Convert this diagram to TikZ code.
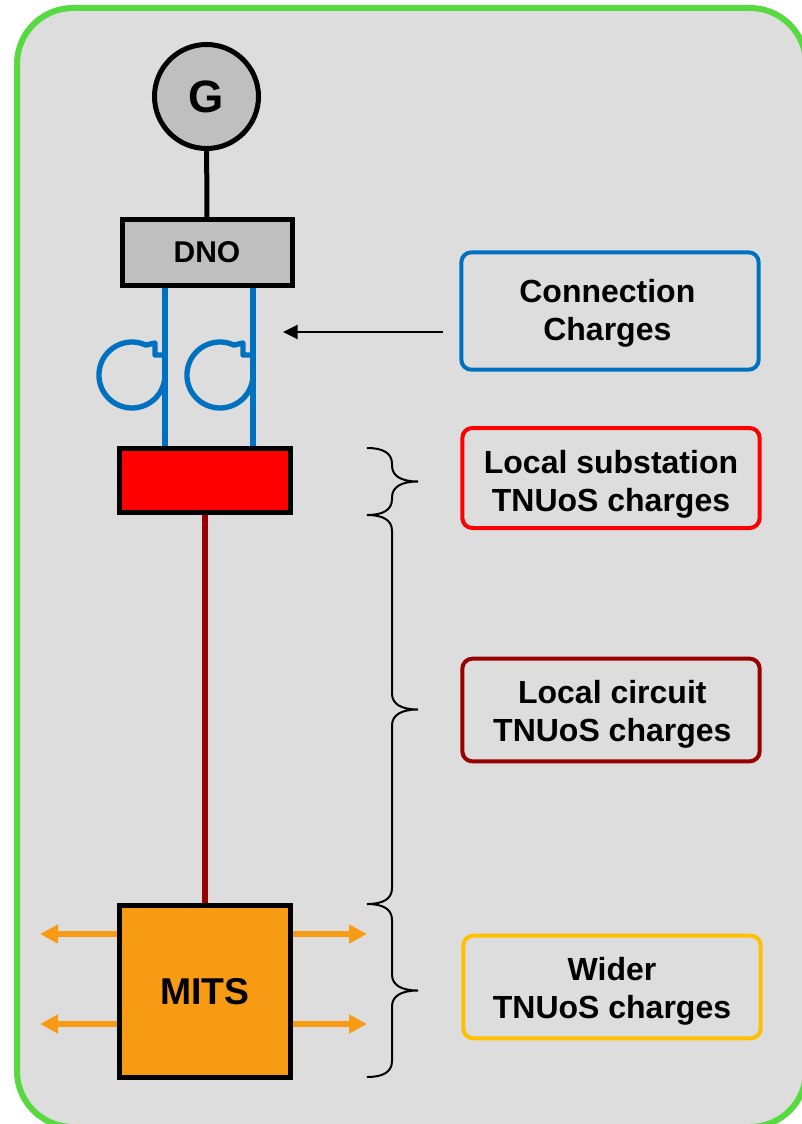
\documentclass[tikz,border=0pt]{standalone}
\usepackage{fontspec}
\setmainfont{Liberation Sans}
\usepackage{xcolor}
\usepackage{tikz}
\usetikzlibrary{positioning, calc, arrows.meta}
\definecolor{panelgray}{RGB}{221, 221, 221}
\definecolor{framegreen}{RGB}{86, 218, 64}
\definecolor{unitgray}{RGB}{191, 191, 191}
\definecolor{connblue}{RGB}{0, 112, 192}
\definecolor{subred}{RGB}{255, 0, 0}
\definecolor{circuitred}{RGB}{153, 0, 0}
\definecolor{mitsorange}{RGB}{247, 154, 20}
\definecolor{widergold}{RGB}{255, 192, 0}
\tikzset{
    chargebox/.style={
        rectangle, rounded corners=7.5pt, line width=3pt, fill=panelgray,
        minimum width=223pt, inner sep=0pt
    },
    chargetext/.style={
        align=center, inner sep=0pt, font=\fontsize{24}{28.5}\selectfont\bfseries
    },
    plantbox/.style={
        rectangle, draw=black, line width=3.75pt, inner sep=0pt
    }
}

\begin{document}
\begin{tikzpicture}[
        x=0.75pt, y=-0.75pt, % 1 unit = 1 px, y goes down
        % --- STYLE ---
        frame/.style={draw=framegreen, fill=panelgray, line width=4.5pt, rounded corners=42pt},
        gennode/.style={circle, draw=black, fill=unitgray, line width=3.75pt, minimum size=78pt, inner sep=0pt, font=\fontsize{34}{40}\selectfont\bfseries},
        wire/.style={draw, line width=3.75pt, black},
        leg/.style={draw, line width=4.25pt, connblue},
        coil/.style={draw, line width=4pt, connblue},
        circuit/.style={draw, line width=4.25pt, circuitred},
        flowarrow/.style={draw, line width=4pt, mitsorange, -{Triangle[length=13.5pt, width=13.5pt]}},
        pointer/.style={draw, line width=1.5pt, black, -{Triangle[length=11pt, width=10.5pt]}},
        chargebrace/.style={draw, line width=1.5pt, black}
    ]
        \clip (0,0) rectangle (802,1124);
        \path[frame] (17,8) rectangle (806,1127);

        % ==========================================
        % PLANT: G, DNO, SUBSTATION, MITS
        % ==========================================
        \node[gennode] (gen) at (206.5,96.5) {G};
        \node[plantbox, fill=unitgray, minimum width=127.5pt, minimum height=49.5pt,
              font=\fontsize{22.5}{27}\selectfont\bfseries] (dno) at (207,252.5) {DNO};
        \draw[wire] (gen) -- (dno);

        \node[plantbox, fill=subred, minimum width=128pt, minimum height=48pt] (sub) at (205,480.5) {};
        \node[plantbox, fill=mitsorange, minimum width=128pt, minimum height=129pt,
              font=\fontsize{28}{33}\selectfont\bfseries] (mits) at (205,991.5) {MITS};
        \draw[circuit] (sub) -- (mits);

        % transformer legs and coils
        \coordinate (legA) at (165,0);
        \coordinate (legB) at (253,0);
        \draw[leg] (dno.south -| legA) -- (sub.north -| legA);
        \draw[leg] (dno.south -| legB) -- (sub.north -| legB);
        \foreach \cx in {132,220} {
            \draw[coil, line join=round] (\cx+33,355) -- (\cx+23,355) -- (\cx+23,343) -- (\cx+13.9,345.1)
                arc[start angle=295, end angle=0, radius=33] -- (\cx+33,395);
        }

        % flows out of MITS
        \foreach \yy [count=\k] in {934,1024} {
            \coordinate (flowL\k) at (40,\yy);
            \coordinate (flowR\k) at (367,\yy);
            \draw[flowarrow] (mits.west |- flowL\k) -- (flowL\k);
            \draw[flowarrow] (mits.east |- flowR\k) -- (flowR\k);
        }

        % ==========================================
        % CHARGES
        % ==========================================
        \node[chargebox, draw=connblue, minimum height=88pt] (conn) at (610,311) {};
        \node[chargetext] (connText) at ([xshift=-2pt, yshift=-1.5pt]conn.center) {Connection\\Charges};

        \node[chargebox, draw=subred, minimum height=75pt] (local) at (611,478) {};
        \node[chargetext] (localText) at ([yshift=-4.5pt]local.center) {Local substation\\TNUoS charges};

        \node[chargebox, draw=circuitred, minimum height=77pt] (circ) at (611,710) {};
        \node[chargetext] (circText) at ([xshift=1pt, yshift=-3pt]circ.center) {Local circuit\\TNUoS charges};

        \node[chargebox, draw=widergold, minimum height=77pt] (wider) at (612,987) {};
        \node[chargetext] (widerText) at ([yshift=-3pt]wider.center) {Wider\\TNUoS charges};

        \coordinate (connFrom) at (443,332);
        \coordinate (connTo) at (283,332);
        \draw[pointer] (connFrom) -- (connTo);

        % braces
        \foreach \ya/\yb in {448/515, 515/904, 904/1077} {
            \pgfmathsetmacro{\ym}{(\ya+\yb)/2}
            \draw[chargebrace] (367,\ya) .. controls (383,\ya) and (392,\ya+5) .. (392,\ya+16)
                -- (392,\ym-16) .. controls (392,\ym-5) and (402,\ym) .. (418,\ym)
                .. controls (402,\ym) and (392,\ym+5) .. (392,\ym+16)
                -- (392,\yb-16) .. controls (392,\yb-5) and (383,\yb) .. (367,\yb);
        }

    \end{tikzpicture}
\end{document}
